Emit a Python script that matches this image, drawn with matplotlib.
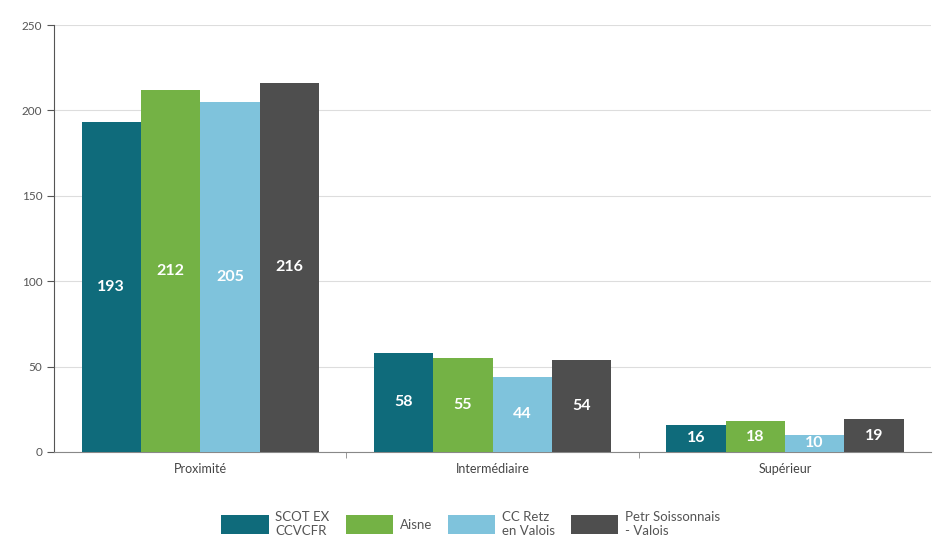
import matplotlib.pyplot as plt
import numpy as np

categories = ["Proximité", "Intermédiaire", "Supérieur"]
series_names = ["SCOT EX\nCCVCFR", "Aisne", "CC Retz\nen Valois", "Petr Soissonnais\n- Valois"]
scot = [193, 58, 16]
aisne = [212, 55, 18]
retz = [205, 44, 10]
petr = [216, 54, 19]
colors = ["#0f6b7b", "#74b245", "#7fc3dc", "#4e4e4e"]

plt.rcParams['font.family'] = ['Lato', 'DejaVu Sans']

fig = plt.figure(figsize=(9.33, 5.38), dpi=100)
ax = fig.add_axes([0.058, 0.160, 0.94, 0.7935])

x = np.arange(len(categories))
w = 0.203
series = [scot, aisne, retz, petr]
for i, (vals, name, c) in enumerate(zip(series, series_names, colors)):
    bars = ax.bar(x + (i - 1.5) * w, vals, w, color=c, label=name, zorder=3)
    for b, v in zip(bars, vals):
        ax.text(b.get_x() + b.get_width() / 2, v / 2, str(v), ha='center', va='center',
                color='white', fontsize=11.5, fontweight='bold', zorder=4)

ax.set_xlim(-0.5, 2.5)
ax.set_ylim(0, 250)
ax.set_yticks([0, 50, 100, 150, 200, 250])
ax.yaxis.grid(True, color='#dddddd', linewidth=0.8, zorder=0)
ax.set_xticks(x)
ax.set_xticklabels(categories)
ax.set_xticks([0.5, 1.5], minor=True)
ax.tick_params(axis='x', which='major', length=0, pad=8, labelsize=9, colors='#444444')
ax.tick_params(axis='x', which='minor', length=4, color='#888888')
ax.tick_params(axis='y', length=5, labelsize=8.5, colors='#555555', color='#555555')
for s in ['top', 'right']:
    ax.spines[s].set_visible(False)
ax.spines['left'].set_color('#555555')
ax.spines['bottom'].set_color('#888888')

ax.legend(loc='upper center', bbox_to_anchor=(0.475, -0.11), ncol=4, frameon=False,
          fontsize=9.5, handlelength=3.6, handleheight=1.8, columnspacing=1.2,
          handletextpad=0.5, labelcolor='#555555')

fig.savefig("out.png", dpi=100)
